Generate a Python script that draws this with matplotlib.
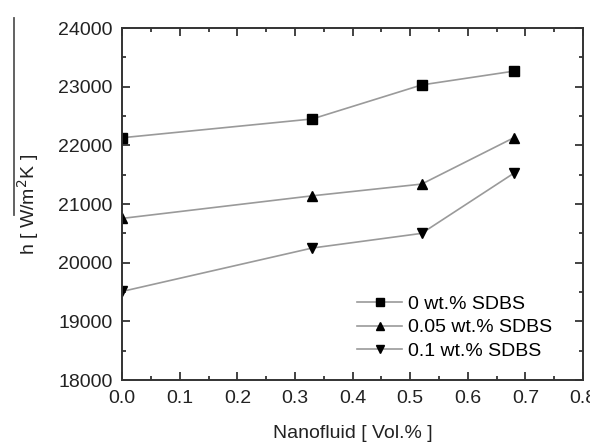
import numpy as np
import matplotlib
matplotlib.use('Agg')
import matplotlib.pyplot as plt
from matplotlib.lines import Line2D
from matplotlib.ticker import MultipleLocator

plt.rcParams['font.family'] = ['Liberation Sans', 'DejaVu Sans']

vol_frac = [0.0, 0.33, 0.52, 0.68]
h_0 = [22130, 22450, 23030, 23265]
h_005 = [20755, 21140, 21340, 22130]
h_01 = [19510, 20250, 20500, 21525]
labels = ['0 wt.% SDBS', '0.05 wt.% SDBS', '0.1 wt.% SDBS']

fig = plt.figure(figsize=(5.9, 4.45), dpi=100)
ax = fig.add_axes([0.207, 0.146, 0.781, 0.791])

for h, m, lab in zip([h_0, h_005, h_01], ['s', '^', 'v'], labels):
    ax.plot(vol_frac, h, color='#9a9a9a', lw=1.2, marker=m, markersize=7,
            markerfacecolor='black', markeredgecolor='black', label=lab)

ax.set_xlim(0, 0.8)
ax.set_ylim(18000, 24000)
ax.xaxis.set_major_locator(MultipleLocator(0.1))
ax.xaxis.set_minor_locator(MultipleLocator(0.05))
ax.yaxis.set_major_locator(MultipleLocator(1000))
ax.yaxis.set_minor_locator(MultipleLocator(500))
ax.xaxis.set_major_formatter(plt.FuncFormatter(lambda v, p: '%.1f' % v))
ax.tick_params(which='both', direction='in', top=True, right=True,
               labeltop=False, labelright=False, width=1.2, colors='#222222')
ax.tick_params(which='major', length=6, labelsize=14, pad=7)
ax.tick_params(which='minor', length=3)
for s in ax.spines.values():
    s.set_linewidth(1.4)
    s.set_color('#333333')

ax.set_xlabel('Nanofluid [ Vol.% ]', fontsize=14, labelpad=13, color='#222222')
ax.set_ylabel('h [ W/m$^2$K ]', fontsize=14, labelpad=12, color='#222222')

fig.add_artist(Line2D([0.024, 0.024], [0.517, 0.96], transform=fig.transFigure,
                      color='#555555', lw=1.3))

ax.legend(loc='lower right', bbox_to_anchor=(0.95, 0.035), frameon=False,
          fontsize=14, handlelength=2.3, handletextpad=0.3, labelspacing=0.3,
          borderaxespad=0.0, markerscale=0.8)

fig.savefig('out.png', dpi=100)
